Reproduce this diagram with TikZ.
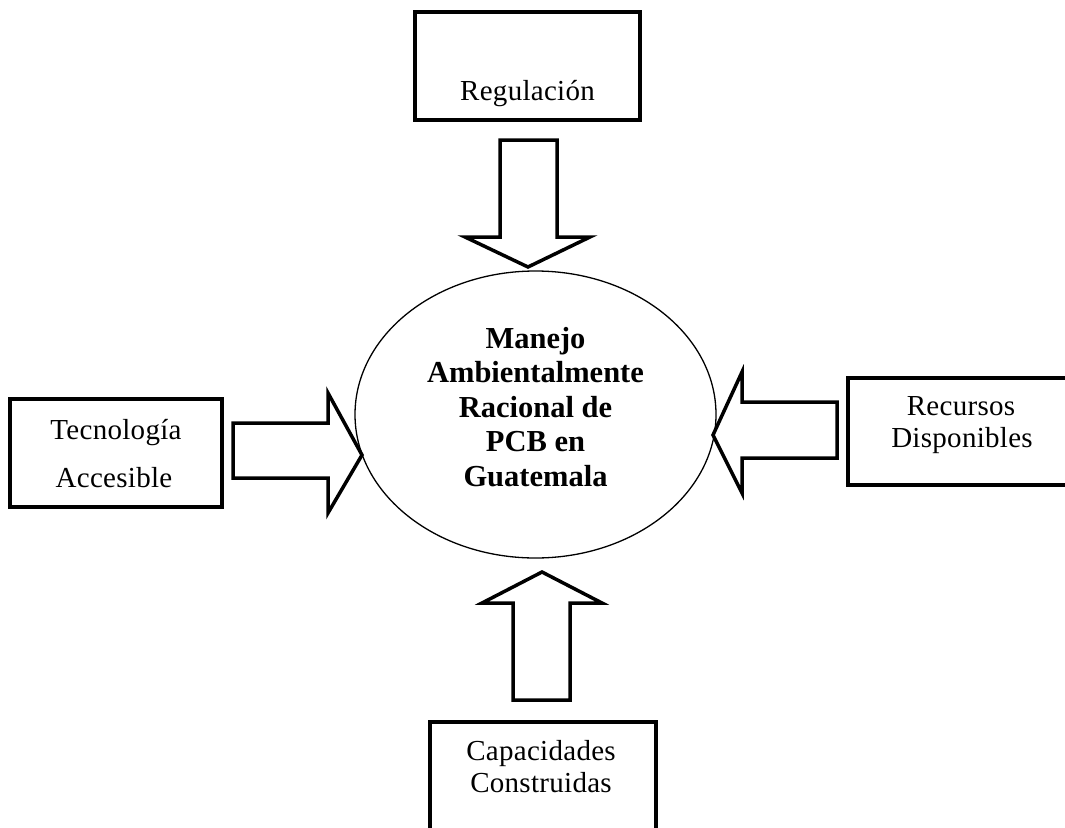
\documentclass[tikz,border=0pt]{standalone}
\usepackage{fontspec}
\setmainfont{Liberation Serif}
\usetikzlibrary{shapes.geometric}

\begin{document}
\begin{tikzpicture}[x=1pt,y=-1pt,
  caja/.style={draw,line width=4pt,inner sep=0pt},
  flecha/.style={draw,line width=3.5pt,line join=miter},
  rotulo/.style={font=\fontsize{29}{33}\selectfont\addfontfeature{LetterSpace=1},anchor=base,inner sep=0pt},
  centro/.style={font=\fontsize{30.5}{34.5}\selectfont\bfseries,anchor=base,inner sep=0pt}]
\useasboundingbox (0,0) rectangle (1065,827);
\clip (0,0) rectangle (1065,827);

% ellipse in the middle
\node[ellipse,draw,line width=1.3pt,minimum width=361pt,minimum height=287pt,inner sep=0pt](manejo) at (535.5,414.5){};
\foreach \linea [count=\i] in {Manejo,Ambientalmente,Racional de,PCB en,Guatemala}
  \node[centro](m\i) at (535.5,313.5+34.5*\i){\linea};

% boxes
\node[caja,minimum width=225pt,minimum height=108pt](regulacion) at (527.5,66){};
\node[rotulo](r1) at (527.5,100){Regulación};

\node[caja,minimum width=212pt,minimum height=108pt](tecnologia) at (116,453){};
\node[rotulo](t1) at (116,439){Tecnología};
\node[rotulo](t2) at (114,487){Accesible};

\node[caja,minimum width=230pt,minimum height=107pt](recursos) at (963,431.5){};
\node[rotulo](c1) at (961,415){Recursos};
\node[rotulo](c2) at (962,447){Disponibles};

\node[caja,minimum width=226pt,minimum height=120pt](capacidades) at (542.5,782){};
\node[rotulo](p1) at (541,760){Capacidades};
\node[rotulo](p2) at (541,792){Construidas};

% block arrows
\draw[flecha](500,140)--(557,140)--(557,237)--(590,237)--(528,267)--(465,237)--(500,237)--cycle;
\draw[flecha](233,423)--(328,423)--(328,393)--(362,455)--(328,513)--(328,478)--(233,478)--cycle;
\draw[flecha](837,402)--(742,402)--(742,372)--(713,435)--(742,493)--(742,458)--(837,458)--cycle;
\draw[flecha](513,700)--(570,700)--(570,603)--(602,603)--(542,572)--(482,603)--(513,603)--cycle;
\end{tikzpicture}
\end{document}
